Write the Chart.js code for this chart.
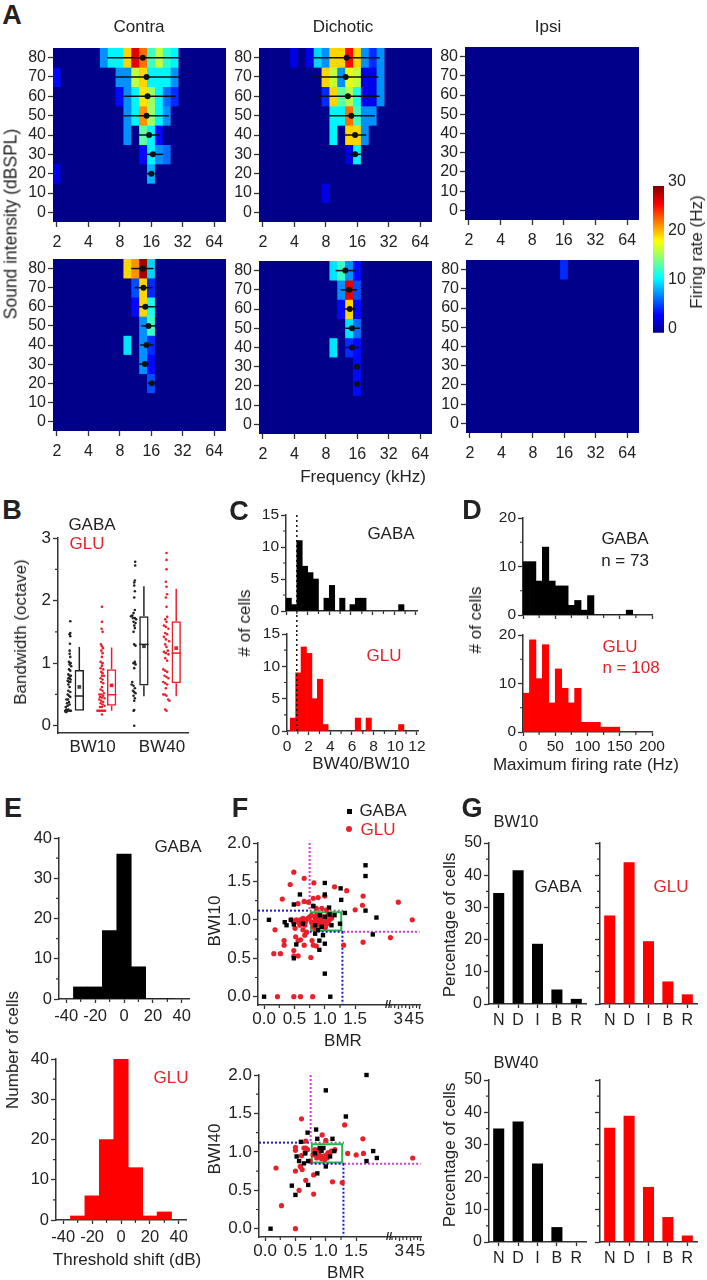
<!DOCTYPE html>
<html>
<head>
<meta charset="utf-8">
<title>Frequency tuning of GABA and GLU cells</title>
<script src="https://cdn.jsdelivr.net/npm/chart.js@4"></script>
<style>
body { margin: 0; background: #fff; }
#page { position: relative; width: 707px; height: 1280px; overflow: hidden; font-family: "Liberation Sans", Arial, sans-serif; color: #222; }
canvas { position: absolute; }
.t { position: absolute; white-space: nowrap; font-size: 17px; transform: translate(-50%, -50%); }
.m { position: absolute; }
</style>
</head>
<body>
<div id="page"></div>
<script>
// A: tuning maps, firing rate (Hz) per cell. Rows run from 80 dB down to 0 dB, columns are quarter octaves from 2 kHz
const levels = [80, 70, 60, 50, 40, 30, 20, 10, 0];
const octaves = [0, 0.25, 0.5, 0.75, 1, 1.25, 1.5, 1.75, 2, 2.25, 2.5, 2.75, 3, 3.25, 3.5, 3.75, 4, 4.25, 4.5, 4.75, 5, 5.25];
const freqTicks = [0, 1, 2, 3, 4, 5];
const freqLabels = ["2", "4", "8", "16", "32", "64"];
const levelTicks = [0, 10, 20, 30, 40, 50, 60, 70, 80];
const levelLabels = ["0", "10", "20", "30", "40", "50", "60", "70", "80"];
const z = [0, 0, 0, 0, 0, 0, 0, 0, 0, 0, 0, 0, 0, 0, 0, 0, 0, 0, 0, 0, 0, 0];

const contraGaba = [
  [0, 0, 0, 0, 0, 0, 8, 11, 11, 20, 27, 23, 13, 17, 12.5, 11, 0, 0, 0, 0, 0, 0],
  [4, 0, 0, 0, 0, 0, 0, 0, 8, 8, 17, 20, 11, 11, 11, 8, 0, 0, 0, 0, 0, 0],
  [0, 0, 0, 0, 0, 0, 0, 0, 4, 8, 11, 19.5, 16, 11, 7, 5, 0, 0, 0, 0, 0, 0],
  [0, 0, 0, 0, 0, 0, 0, 0, 0, 8, 11, 22, 16, 11, 8, 0, 0, 0, 0, 0, 0, 0],
  [0, 0, 0, 0, 0, 0, 0, 0, 0, 8, 0, 14, 11, 4, 0, 0, 0, 0, 0, 0, 0, 0],
  [0, 0, 0, 0, 0, 0, 0, 0, 0, 0, 0, 4, 11, 8, 7, 0, 0, 0, 0, 0, 0, 0],
  [3, 0, 0, 0, 0, 0, 0, 0, 0, 0, 0, 0, 9, 0, 0, 0, 0, 0, 0, 0, 0, 0],
  z, z];
const dichoticGaba = [
  [0, 0, 0, 0, 3, 0, 3, 10, 8, 20, 20, 26, 20, 8, 5, 8, 0, 0, 0, 0, 0, 0],
  [0, 0, 0, 0, 0, 0, 0, 0, 20, 17, 8, 18, 17, 3, 3, 8, 0, 0, 0, 0, 0, 0],
  [0, 0, 0, 0, 0, 0, 0, 0, 5, 20, 14, 16.5, 12, 3, 3, 8, 0, 0, 0, 0, 0, 0],
  [0, 0, 0, 0, 0, 0, 0, 0, 0, 11, 11, 23, 13, 8, 8, 0, 0, 0, 0, 0, 0, 0],
  [0, 0, 0, 0, 0, 0, 0, 0, 0, 11, 0, 20, 20, 8, 0, 0, 0, 0, 0, 0, 0, 0],
  [0, 0, 0, 0, 0, 0, 0, 0, 0, 0, 0, 3, 11, 0, 0, 0, 0, 0, 0, 0, 0, 0],
  z,
  [0, 0, 0, 0, 0, 0, 0, 0, 3, 0, 0, 0, 0, 0, 0, 0, 0, 0, 0, 0, 0, 0],
  z];
const ipsiGaba = [z, z, z, z, z, z, z, z, z];
const contraGlu = [
  [0, 0, 0, 0, 0, 0, 0, 0, 0, 20, 22, 29, 10, 0, 0, 0, 0, 0, 0, 0, 0, 0],
  [0, 0, 0, 0, 0, 0, 0, 0, 0, 0, 6, 20, 5, 0, 0, 0, 0, 0, 0, 0, 0, 0],
  [0, 0, 0, 0, 0, 0, 0, 0, 0, 0, 4, 20, 12, 0, 0, 0, 0, 0, 0, 0, 0, 0],
  [0, 0, 0, 0, 0, 0, 0, 0, 0, 0, 0, 8, 13, 0, 0, 0, 0, 0, 0, 0, 0, 0],
  [0, 0, 0, 0, 0, 0, 0, 0, 0, 10.5, 0, 8, 5, 0, 0, 0, 0, 0, 0, 0, 0, 0],
  [0, 0, 0, 0, 0, 0, 0, 0, 0, 0, 0, 8, 4, 0, 0, 0, 0, 0, 0, 0, 0, 0],
  [0, 0, 0, 0, 0, 0, 0, 0, 0, 0, 0, 0, 6, 0, 0, 0, 0, 0, 0, 0, 0, 0],
  z, z];
const dichoticGlu = [
  [0, 0, 0, 0, 0, 0, 0, 0, 0, 10.5, 13, 8, 4, 0, 0, 0, 0, 0, 0, 0, 0, 0],
  [0, 0, 0, 0, 0, 0, 0, 0, 0, 0, 8, 27, 6, 0, 0, 0, 0, 0, 0, 0, 0, 0],
  [0, 0, 0, 0, 0, 0, 0, 0, 0, 0, 4, 20, 4, 0, 0, 0, 0, 0, 0, 0, 0, 0],
  [0, 0, 0, 0, 0, 0, 0, 0, 0, 0, 0, 10.5, 7, 0, 0, 0, 0, 0, 0, 0, 0, 0],
  [0, 0, 0, 0, 0, 0, 0, 0, 0, 10.5, 0, 5, 4, 0, 0, 0, 0, 0, 0, 0, 0, 0],
  [0, 0, 0, 0, 0, 0, 0, 0, 0, 0, 0, 0, 4, 0, 0, 0, 0, 0, 0, 0, 0, 0],
  [0, 0, 0, 0, 0, 0, 0, 0, 0, 0, 0, 0, 4, 0, 0, 0, 0, 0, 0, 0, 0, 0],
  z, z];
const ipsiGlu = [
  [0, 0, 0, 0, 0, 0, 0, 0, 0, 0, 0, 0, 5, 0, 0, 0, 0, 0, 0, 0, 0, 0],
  z, z, z, z, z, z, z, z];

// best frequency and bandwidth edges per level: [level, center, low, high] in octaves above 2 kHz
const tuneContraGaba = [[80, 2.73, 1.59, 3.87], [70, 2.85, 1.85, 3.89], [60, 2.88, 2.12, 3.77], [50, 2.85, 2.12, 3.56], [40, 2.93, 2.6, 3.28], [30, 3.05, 2.86, 3.37], [20, 3, 2.86, 3.1]];
const tuneDichoticGaba = [[80, 2.66, 1.61, 3.72], [70, 2.63, 1.58, 3.67], [60, 2.7, 1.74, 3.71], [50, 2.81, 2.11, 3.56], [40, 2.93, 2.6, 3.29], [30, 2.93, 2.76, 3.11]];
const tuneContraGlu = [[80, 2.73, 2.36, 3.07], [70, 2.75, 2.47, 3.05], [60, 2.81, 2.6, 3.11], [50, 2.91, 2.68, 3.13], [40, 2.85, 2.65, 3.07], [30, 2.8, 2.62, 2.91], [20, 3.02, 2.89, 3.15]];
const tuneDichoticGlu = [[80, 2.62, 2.31, 2.95], [70, 2.74, 2.47, 3], [60, 2.76, 2.6, 2.97], [50, 2.83, 2.62, 3.08], [40, 2.83, 2.62, 3.05], [30, 2.99, 2.92, 3.08], [21, 3, 2.92, 3.1]];

// B: bandwidth strips and boxes
const stripGaba10 = [[.72,1.67],[.72,1.48],[.7,1.46],[.72,1.43],[.71,1.31],[.7,1.2],[.7,1.15],[.72,1.1],[.68,1.02],[.73,1],[.7,.98],[.75,.95],[.68,.9],[.72,.88],[.66,.82],[.7,.8],[.74,.8],[.66,.76],[.7,.76],[.73,.74],[.64,.72],[.68,.7],[.72,.7],[.66,.66],[.7,.62],[.66,.56],[.72,.54],[.64,.5],[.68,.48],[.72,.46],[.6,.42],[.65,.42],[.68,.38],[.62,.36],[.7,.34],[.64,.32],[.58,.3],[.6,.26],[.66,.26],[.56,.24],[.6,.22],[.64,.24],[.7,.24],[.74,.24],[.58,.22]];
const stripGlu10 = [[1.7,1.9],[1.7,1.66],[1.69,1.55],[1.72,1.5],[1.67,1.3],[1.7,1.27],[1.73,1.24],[1.68,1.2],[1.72,1.16],[1.7,1.1],[1.66,1.02],[1.72,1],[1.7,.96],[1.66,.92],[1.74,.9],[1.68,.86],[1.72,.84],[1.7,.8],[1.76,.8],[1.66,.76],[1.72,.74],[1.68,.7],[1.74,.68],[1.7,.62],[1.66,.58],[1.72,.56],[1.76,.52],[1.62,.5],[1.68,.5],[1.74,.48],[1.64,.46],[1.7,.45],[1.78,.44],[1.62,.42],[1.68,.4],[1.74,.38],[1.66,.36],[1.72,.34],[1.78,.32],[1.64,.3],[1.7,.3],[1.56,.24],[1.6,.24],[1.64,.24],[1.68,.24],[1.72,.24],[1.76,.24],[1.8,.24],[1.7,.18]];
const stripGaba40 = [[2.73,2.62],[2.73,2.56],[2.72,2.32],[2.7,2.29],[2.7,2.24],[2.72,2.15],[2.7,2.05],[2.72,1.85],[2.68,1.8],[2.64,1.76],[2.6,1.75],[2.66,1.72],[2.72,1.72],[2.76,1.7],[2.68,1.66],[2.74,1.64],[2.7,1.6],[2.72,1.56],[2.68,1.5],[2.7,1.3],[2.74,1.28],[2.72,1.02],[2.68,1],[2.74,.98],[2.7,.92],[2.64,.7],[2.62,.66],[2.68,.64],[2.72,.6],[2.66,.56],[2.7,.54],[2.74,.52],[2.68,.48],[2.72,.44],[2.7,.4],[2.7,.25],[2.68,.24],[2.7,0]];
const stripGlu40 = [[3.7,2.76],[3.7,2.65],[3.7,2.5],[3.68,2.3],[3.7,2.22],[3.72,2.1],[3.68,2.05],[3.7,1.9],[3.72,1.74],[3.66,1.7],[3.7,1.66],[3.62,1.6],[3.68,1.58],[3.76,1.55],[3.66,1.48],[3.72,1.46],[3.62,1.42],[3.68,1.38],[3.78,1.35],[3.66,1.3],[3.7,1.26],[3.74,1.2],[3.62,1.18],[3.68,1.16],[3.76,1.14],[3.66,1.08],[3.72,1.04],[3.6,.9],[3.66,.88],[3.72,.86],[3.64,.8],[3.7,.78],[3.76,.76],[3.6,.7],[3.66,.68],[3.72,.66],[3.68,.6],[3.6,.5],[3.65,.5],[3.7,.48],[3.75,.42],[3.79,.4],[3.66,.26],[3.7,.24]];
const boxX = [1, 2, 3, 4];
const boxLow = [.24, .32, .645, .68];
const boxHigh = [.89, .904, 1.75, 1.67];
const boxMedian = [.475, .495, 1.3, 1.16];
const boxMean = [.62, .645, 1.27, 1.24];
const whiskerLow = [.24, .24, .47, .47];
const whiskerHigh = [1.26, 1.25, 2.23, 2.19];
const boxColors = ["#222222", "#e8202a", "#222222", "#e8202a"];

// C: BW40/BW10 histograms
const ratioBinsGaba = [.25, .75, 1.25, 1.75, 2.25, 2.75, 3.25, 3.75, 4.25, 5.2, 6.15, 6.65, 7.15, 10.65];
const ratioCountsGaba = [2, 1, 11, 7, 6, 5, 0, 2, 4, 2, 1, 2, 2, 1];
const ratioBinsGlu = [.55, 1.05, 1.55, 2.05, 2.55, 3.05, 3.55, 6.55, 7.55, 10.55];
const ratioCountsGlu = [2, 9, 13, 12, 5, 8, 1, 2, 2, 1];

// D: maximum firing rate histograms, 10 Hz bins
const rateBins = [5, 15, 25, 35, 45, 55, 65, 75, 85, 95, 105, 115, 125, 135, 145, 155, 165];
const rateCountsGaba = [11, 11, 7, 14, 7, 6, 6, 2, 3, 1, 4, 0, 0, 0, 0, 0, 1];
const rateCountsGlu = [8, 19, 11, 18, 6, 13, 9, 6, 9, 2, 2, 2, 1, 1, 1, 0, 0];

// E: threshold shift histograms
const shiftBins = [-30, -20, -10, 0, 10, 20, 30];
const shiftCountsGaba = [3, 3, 17, 36, 8, 0, 0];
const shiftCountsGlu = [1, 6, 20, 40, 13, 1, 2];

// F: BMR against BWI. x runs on the drawn broken axis, so 3, 4, 5 sit at 2.21, 2.39, 2.56
const bmrTicks = [0, .5, 1, 1.5, 2.21, 2.39, 2.56];
const bmrLabels = ["0.0", "0.5", "1.0", "1.5", "3", "4", "5"];
const bwi10Gaba = [[0,0],[.08,1],[1.09,0],[1,.3],[1.67,1.71],[1.67,1.57],[1,1.48],[1.26,1.41],[.59,1.33],[1,1.33],[.49,1.2],[.81,1.18],[1.27,1.26],[1.07,1.16],[1.67,1.12],[1.85,1.03],[1.79,.81],[1.33,1.09],[.34,.97],[.37,.93],[.44,1],[.49,.94],[.64,.95],[.53,.68],[.49,.5],[.91,.61],[.91,.73],[1,.69],[.97,.8],[.84,.93],[.95,.91],[1.11,.93],[1.16,1.06],[1.25,.95],[.84,.82],[1,1.04],[1.08,1.07],[.89,.87],[.92,1.06]];
const bwi10Glu = [[.49,1.62],[.43,1.46],[.3,1.27],[.66,1.54],[.82,1.48],[1.16,1.43],[1.36,1.38],[1.63,1.31],[1.62,1.19],[1.5,1.13],[2.21,1.23],[2.44,1],[2.08,.77],[1.63,.71],[1.31,.67],[.18,.87],[.33,.73],[.33,.67],[.16,.56],[.27,.56],[.49,.6],[.49,.53],[.56,.53],[.77,.51],[.22,0],[.49,0],[.6,0],[.8,0],[.52,.78],[.56,.73],[.6,.74],[.66,.67],[.79,.73],[.81,.67],[.86,.66],[.67,.8],[.7,.84],[.51,.89],[.56,1.21],[.66,1.24],[.73,1.23],[.81,1.28],[.89,1.29],[1,1.31],[.81,1.18],[.86,1.15],[.95,1.15],[1.03,1.13],[.45,1],[.53,1],[.59,1],[.64,1.02],[.7,1],[.75,1.04],[.78,.97],[.84,1.02],[.89,.97],[.95,1],[.97,1.04],[1,.95],[.92,.93],[1.03,1],[1.05,1.06],[1.11,1.02],[.86,1.06],[.96,.91],[.81,.91],[.64,.87],[.59,.93],[.67,.93],[.48,.98],[.56,.97],[.62,.98],[.68,.97],[.72,1.02],[.83,.97],[.87,1],[.9,.94],[.93,1],[.94,.96],[.98,.98],[1,1.02],[1.01,.9],[1.04,.95],[1.07,.99],[.88,1.03],[.84,.89],[.78,1.06]];
const bwi40Gaba = [[.09,0],[.5,.44],[.44,.56],[.71,.57],[.86,.72],[1,1.8],[1.67,2],[1.33,1.46],[.84,1.29],[.7,1.25],[.86,1.17],[1.11,1.17],[.59,1.13],[1.78,1.01],[1.84,.92],[1.67,.88],[1,.81],[.52,.94],[.56,.88],[.64,.85],[.71,.88],[.66,.98],[.9,1.05],[.96,1.05],[.93,1.01],[1.07,.94],[1.14,1.01],[.82,.98]];
const bwi40Glu = [[.6,1.43],[1.31,1.35],[.94,1.22],[1.61,1.17],[.67,1.14],[1,1.15],[.5,1.06],[.5,1.02],[.64,1.05],[.67,1.05],[1.36,.98],[1.5,.96],[1.62,.98],[2.43,.92],[.18,.79],[.5,.75],[.58,.81],[.61,.77],[.67,.63],[.8,.7],[1.11,.61],[1.27,.6],[.56,.5],[.8,.45],[.27,.3],[.5,0],[.6,.95],[.74,.88],[.82,1.03],[.85,.92],[.93,.91],[1.01,.96],[1.04,.99],[1.09,1.01],[1.15,1.03],[.87,.98],[.98,.9],[.79,.96],[.83,1],[.9,.95],[.96,.94],[1.02,.92],[1.06,.96],[.88,1.03],[.66,.99],[.7,1.03]];

// G: percentage of cells per tuning class
const classes = ["N", "D", "I", "B", "R"];
const classX = [1, 2, 3, 4, 5];
const pctGaba10 = [34.5, 41.5, 18.7, 4.5, 1.6];
const pctGlu10 = [27.5, 44, 19.5, 7, 3];
const pctGaba40 = [35, 37.2, 24.2, 4.6, 0];
const pctGlu40 = [35.3, 39, 17, 7.7, 2];

Chart.defaults.font.family = '"Liberation Sans", Arial, sans-serif';
Chart.defaults.color = "#222";
Chart.defaults.animation = false;
Chart.defaults.responsive = false;
Chart.defaults.events = [];
Chart.defaults.plugins.legend.display = false;
Chart.defaults.plugins.tooltip.enabled = false;

const page = document.getElementById("page");
const AXIS = "#333";

function text(str, x, y, opts) {
  let o = opts || {};
  let d = document.createElement("div");
  d.className = "t";
  d.textContent = str;
  d.style.left = x + "px";
  d.style.top = y + "px";
  if (o.size) d.style.fontSize = o.size + "px";
  if (o.bold) d.style.fontWeight = "bold";
  if (o.color) d.style.color = o.color;
  if (o.rot) d.style.transform = "translate(-50%, -50%) rotate(-90deg)";
  page.appendChild(d);
}

function mark(x, y, size, color, round) {
  let d = document.createElement("div");
  d.className = "m";
  d.style.cssText = "left:" + (x - size / 2) + "px;top:" + (y - size / 2) + "px;width:" + size + "px;height:" + size + "px;background:" + color + ";border-radius:" + (round ? "50%" : "0");
  page.appendChild(d);
}

function jet(rate) {
  let v = rate / 30;
  let ch = t => Math.round(255 * Math.max(0, Math.min(1, 1.5 - Math.abs(4 * v - t))));
  return "rgb(" + ch(3) + "," + ch(2) + "," + Math.max(ch(1), v < 0.1 ? 139 : 0) + ")";
}

function pts(xs, ys) {
  return xs.map((x, i) => ({ x: x, y: ys[i] }));
}

function bars(xs, ys, color, pct) {
  return { type: "bar", data: pts(xs, ys), backgroundColor: color, borderWidth: 0, barPercentage: pct || 1, categoryPercentage: 1, grouped: false };
}

function line(xs, ys, color, width, dash) {
  return { type: "line", data: pts(xs, ys), borderColor: color, borderWidth: width, borderDash: dash || [], pointRadius: 0, clip: false, fill: false };
}

function dots(points, color, radius, style) {
  return { type: "scatter", data: points.map(p => ({ x: p[0], y: p[1] })), backgroundColor: color, borderWidth: 0, pointRadius: radius, pointStyle: style || "circle", clip: false };
}

// every plot gets its own canvas, sized so the chart area lands on box l,t,w,h
const ml = 50, mr = 30, mt = 12, mb = 40;
function panel(box, datasets, o) {
  let can = document.createElement("canvas");
  can.width = box.w + ml + mr;
  can.height = box.h + mt + mb;
  can.style.left = (box.l - ml) + "px";
  can.style.top = (box.t - mt) + "px";
  page.appendChild(can);

  let drawTicksX = o.xLen !== 0;
  let fontSize = o.font || 15.5;
  let extras = {
    id: "extras",
    beforeDatasetsDraw(chart) {
      if (!o.background) return;
      let a = chart.chartArea;
      chart.ctx.fillStyle = o.background;
      chart.ctx.fillRect(a.left, a.top, a.width, a.height);
    },
    afterDraw(chart) {
      let a = chart.chartArea, c = chart.ctx;
      c.save();
      c.strokeStyle = AXIS;
      c.lineWidth = 1.2;
      c.beginPath();
      (o.xMinor || []).forEach(v => {
        let px = chart.scales.x.getPixelForValue(v);
        c.moveTo(px, a.bottom);
        c.lineTo(px, a.bottom + 3);
      });
      (o.yMinor || []).forEach(v => {
        let py = chart.scales.y.getPixelForValue(v);
        c.moveTo(a.left, py);
        c.lineTo(a.left - 3, py);
      });
      c.stroke();
      c.restore();
    }
  };

  return new Chart(can.getContext("2d"), {
    type: "bar",
    data: { datasets: datasets },
    plugins: [extras],
    options: {
      layout: { padding: { top: mt, right: o.yRight ? 0 : mr, left: o.yRight ? ml : 0, bottom: 0 } },
      scales: {
        x: {
          type: "linear", display: !o.xHidden, offset: false, min: o.xMin, max: o.xMax,
          grid: { offset: false, drawOnChartArea: false, drawTicks: drawTicksX, tickLength: o.xLen === undefined ? 4 : o.xLen, tickColor: AXIS, tickWidth: 1.3 },
          border: { display: !o.heat, color: AXIS, width: 1.5 },
          ticks: { autoSkip: false, maxRotation: 0, minRotation: 0, padding: o.xPad === undefined ? 2 : o.xPad, font: { size: fontSize }, callback: (v, i) => (o.xLabels ? o.xLabels[i] : "") },
          afterBuildTicks: s => { s.ticks = (o.xTicks || []).map(value => ({ value: value })); },
          afterFit: s => { s.height = mb; s.paddingLeft = 0; s.paddingRight = 0; }
        },
        y: {
          type: "linear", position: o.yRight ? "right" : "left", min: o.yMin === undefined ? 0 : o.yMin, max: o.yMax,
          grid: { drawOnChartArea: false, drawTicks: !o.yRight, tickLength: 5, tickColor: AXIS, tickWidth: 1.3 },
          border: { display: !o.heat && !o.yRight, color: AXIS, width: 1.5 },
          ticks: { autoSkip: false, padding: o.yRight ? 4 : 2, labelOffset: o.yRight ? -4 : 0, font: { size: fontSize }, callback: (v, i) => (o.yLabels ? o.yLabels[i] : "") },
          afterBuildTicks: s => { s.ticks = o.yTicks.map(value => ({ value: value })); },
          afterFit: s => { s.width = o.yRight ? mr : ml; s.paddingTop = 0; s.paddingBottom = 0; }
        }
      }
    }
  });
}

function heatmap(box, rows, tune) {
  let sets = [];
  (tune || []).forEach(t => { sets.push(line([t[2], t[3]], [t[0], t[0]], "#111", 1.5)); });
  if (tune) sets.unshift(dots(tune.map(t => [t[1], t[0]]), "#111", 3));
  rows.forEach((row, r) => {
    sets.push({
      type: "bar",
      data: octaves.map(x => ({ x: x, y: [levels[r] - 5, levels[r] + 5] })),
      backgroundColor: row.map(jet),
      borderWidth: 0, barPercentage: 1, categoryPercentage: 1, grouped: false
    });
  });
  panel(box, sets, {
    heat: true, background: jet(0), font: 16,
    xMin: -0.125, xMax: 5.375, xTicks: freqTicks, xLabels: freqLabels, xLen: 5, xPad: 6,
    yMin: -5, yMax: 85, yTicks: levelTicks, yLabels: levelLabels
  });
}

// A
heatmap({ l: 53, t: 48, w: 173, h: 174 }, contraGaba, tuneContraGaba);
heatmap({ l: 259, t: 48, w: 173, h: 174 }, dichoticGaba, tuneDichoticGaba);
heatmap({ l: 465, t: 47, w: 174, h: 173 }, ipsiGaba);
heatmap({ l: 53, t: 259, w: 173, h: 172 }, contraGlu, tuneContraGlu);
heatmap({ l: 259, t: 261, w: 173, h: 173 }, dichoticGlu, tuneDichoticGlu);
heatmap({ l: 466, t: 260, w: 173, h: 173 }, ipsiGlu);

// colour bar
const barBox = { l: 653, t: 186, w: 11, h: 147 };
panel(barBox, [{
  type: "bar", data: [{ x: 0, y: [0, 30] }], borderWidth: 0, barPercentage: 1, categoryPercentage: 1,
  backgroundColor: c => {
    let g = c.chart.ctx.createLinearGradient(0, mt + barBox.h, 0, mt);
    [0, 3.75, 11.25, 18.75, 26.25, 30].forEach((r, i) => {
      g.addColorStop(r / 30, ["#00008b", "#0000ff", "#00ffff", "#ffff00", "#ff0000", "#800000"][i]);
    });
    return g;
  }
}], { xHidden: true, yRight: true, xMin: -0.5, xMax: 0.5, xTicks: [], yMax: 30, yTicks: [0, 10, 20, 30], yLabels: ["0", "10", "20", "30"], font: 16 });

// B
let boxSets = [];
boxX.forEach((x, i) => {
  boxSets.push(line([x, x], [boxHigh[i], whiskerHigh[i]], boxColors[i], 1.5));
  boxSets.push(line([x, x], [whiskerLow[i], boxLow[i]], boxColors[i], 1.5));
  boxSets.push(line([x - 0.145, x + 0.145], [boxMedian[i], boxMedian[i]], boxColors[i], 1.5));
  boxSets.push(dots([[x, boxMean[i]]], boxColors[i] === "#222222" ? "#444" : "#e8202a", 2.6, "rect"));
});
boxSets.push(dots(stripGaba10, "#222", 1.3), dots(stripGaba40, "#222", 1.3), dots(stripGlu10, "#e8202a", 1.3), dots(stripGlu40, "#e8202a", 1.3));
boxSets.push({
  type: "bar", data: boxX.map((x, i) => ({ x: x, y: [boxLow[i], boxHigh[i]] })),
  backgroundColor: "rgba(0,0,0,0)", borderColor: boxColors, borderWidth: 1.5, borderSkipped: false,
  barPercentage: 0.29, categoryPercentage: 1, grouped: false
});
panel({ l: 58, t: 538, w: 130, h: 195 }, boxSets, {
  font: 17, xMin: 0.34, xMax: 4.365, xTicks: [1.41, 3.56], xLabels: ["BW10", "BW40"], xLen: 0, xPad: 4,
  yMin: -0.116, yMax: 3, yTicks: [0, 1, 2, 3], yLabels: ["0", "1", "2", "3"], yMinor: [.5, 1.5, 2.5]
});

// C
const ratioTicks = [0, 2, 4, 6, 8, 10, 12];
const ratioMinor = [1, 3, 5, 7, 9, 11];
const countTicks15 = [0, 5, 10, 15];
panel({ l: 286, t: 515, w: 131, h: 96 }, [
  line([1, 1], [15, -3.6], "#111", 1.5, [2, 3]),
  bars(ratioBinsGaba, ratioCountsGaba, "#000")
], { xMin: 0, xMax: 12.1, xTicks: ratioTicks, xMinor: ratioMinor, yMax: 15, yTicks: countTicks15, yLabels: ["0", "5", "10", "15"], yMinor: [2.5, 7.5, 12.5] });
panel({ l: 287, t: 634, w: 131, h: 97 }, [
  line([.9, .9], [15, 0], "#111", 1.5, [2, 3]),
  bars(ratioBinsGlu, ratioCountsGlu, "#ff0000")
], { xMin: 0, xMax: 12.1, xTicks: ratioTicks, xLabels: ["0", "2", "4", "6", "8", "10", "12"], xMinor: ratioMinor, xPad: 2.5, yMax: 15, yTicks: countTicks15, yLabels: ["0", "5", "10", "15"], yMinor: [2.5, 7.5, 12.5] });

// D
const rateTicks = [0, 50, 100, 150, 200];
const rateMinor = [25, 75, 125, 175];
const countTicks20 = [0, 10, 20];
panel({ l: 523, t: 518, w: 129, h: 97 }, [bars(rateBins, rateCountsGaba, "#000")],
  { xMin: 0, xMax: 200, xTicks: rateTicks, xMinor: rateMinor, yMax: 20, yTicks: countTicks20, yLabels: ["0", "10", "20"], yMinor: [5, 15] });
panel({ l: 523, t: 635, w: 129, h: 97 }, [bars(rateBins, rateCountsGlu, "#ff0000")],
  { xMin: 0, xMax: 200, xTicks: rateTicks, xLabels: ["0", "50", "100", "150", "200"], xMinor: rateMinor, xPad: 1, yMax: 20, yTicks: countTicks20, yLabels: ["0", "10", "20"], yMinor: [5, 15] });

// E
const shiftTicks = [-40, -20, 0, 20, 40];
const shiftLabels = ["-40", "-20", "0", "20", "40"];
const shiftMinor = [-30, -10, 10, 30];
const countTicks40 = [0, 10, 20, 30, 40];
const countLabels40 = ["0", "10", "20", "30", "40"];
const countMinor40 = [5, 15, 25, 35];
panel({ l: 59, t: 838, w: 130, h: 161 }, [bars(shiftBins, shiftCountsGaba, "#000")],
  { font: 16.5, xMin: -45, xMax: 45, xTicks: shiftTicks, xLabels: shiftLabels, xMinor: shiftMinor, xPad: 3.5, yMax: 40, yTicks: countTicks40, yLabels: countLabels40, yMinor: countMinor40 });
panel({ l: 56, t: 1059, w: 130, h: 161 }, [bars(shiftBins, shiftCountsGlu, "#ff0000")],
  { font: 16.5, xMin: -45, xMax: 45, xTicks: shiftTicks, xLabels: shiftLabels, xMinor: shiftMinor, xPad: 3.5, yMax: 40, yTicks: countTicks40, yLabels: countLabels40, yMinor: countMinor40 });

// F
function bmrPanel(box, gaba, glu) {
  const magenta = "#d83ad8", blue = "#1c1cc0", green = "#2bb24c", dotted = [2, 2];
  panel(box, [
    dots(gaba, "#000", 3.1, "rect"),
    dots(glu, "#e8202a", 2.6),
    line([.75, .75], [2, 1.12], magenta, 2, dotted),
    line([1.3, 2.56], [.845, .845], magenta, 2, dotted),
    line([-0.1, .75], [1.12, 1.12], blue, 2, dotted),
    line([1.29, 1.29], [.845, -0.108], blue, 2, dotted),
    line([.75, 1.3], [.845, .845], blue, 2, dotted),
    line([.75, 1.3], [1.12, 1.12], "#7a7a7a", 2, dotted),
    line([.77, 1.27, 1.27, .77, .77], [.86, .86, 1.1, 1.1, .86], green, 2)
  ], {
    font: 17, xMin: -0.1, xMax: 2.567, xTicks: bmrTicks, xLabels: bmrLabels, xMinor: [.25, .75, 1.25, 2.09, 2.15, 2.27, 2.33, 2.45, 2.51], xPad: 0.5,
    yMin: -0.108, yMax: 2, yTicks: [0, .5, 1, 1.5, 2], yLabels: ["0.0", "0.5", "1.0", "1.5", "2.0"], yMinor: [.25, .75, 1.25, 1.75]
  });
}
bmrPanel({ l: 258, t: 843, w: 162, h: 162 }, bwi10Gaba, bwi10Glu);
bmrPanel({ l: 259, t: 1075, w: 162, h: 162 }, bwi40Gaba, bwi40Glu);

// G
const pctTicks = [0, 10, 20, 30, 40, 50];
const pctLabels = ["0", "10", "20", "30", "40", "50"];
const pctMinor = [5, 15, 25, 35, 45];
function classPanel(box, values, color, labelled) {
  panel(box, [bars(classX, values, color, 0.57)], {
    font: 16, xMin: 0.5, xMax: 5.5, xTicks: classX, xLabels: classes, xPad: 3,
    yMax: 50, yTicks: pctTicks, yLabels: labelled ? pctLabels : null, yMinor: pctMinor
  });
}
classPanel({ l: 489, t: 843, w: 97, h: 161 }, pctGaba10, "#000", true);
classPanel({ l: 600, t: 843, w: 97, h: 161 }, pctGlu10, "#ff0000", false);
classPanel({ l: 489, t: 1080, w: 97, h: 162 }, pctGaba40, "#000", true);
classPanel({ l: 600, t: 1080, w: 97, h: 162 }, pctGlu40, "#ff0000", false);

// labels
const RED = "#e8202a";
text("A", 12, 15, { size: 27, bold: true });
text("B", 12, 510, { size: 27, bold: true });
text("C", 239, 511, { size: 27, bold: true });
text("D", 472, 510, { size: 27, bold: true });
text("E", 13, 808, { size: 27, bold: true });
text("F", 240, 808, { size: 27, bold: true });
text("G", 472, 808, { size: 27, bold: true });

text("Contra", 139, 27);
text("Dichotic", 343, 27);
text("Ipsi", 548, 27);
text("Sound intensity (dBSPL)", 11, 224, { size: 17.5, rot: true });
text("Frequency (kHz)", 363, 477);
text("Firing rate (Hz)", 697, 252, { rot: true });

text("GABA", 92, 525);
text("GLU", 87, 544, { color: RED });
text("Bandwidth (octave)", 21, 632, { rot: true });

text("GABA", 391, 534);
text("GLU", 384, 656, { color: RED });
text("BW40/BW10", 361, 764);
text("# of cells", 245, 623, { rot: true });

text("GABA", 625, 539);
text("n = 73", 625, 561);
text("GLU", 620, 647, { color: RED });
text("n = 108", 631, 668, { color: RED });
text("Maximum firing rate (Hz)", 586, 765);
text("# of cells", 476, 620, { rot: true });

text("GABA", 178, 847);
text("GLU", 171, 1078, { color: RED });
text("Number of cells", 13, 1050, { rot: true });
text("Threshold shift (dB)", 127, 1260);

mark(349, 811, 5, "#000");
text("GABA", 383, 811);
mark(349, 829, 6, RED, true);
text("GLU", 378, 830, { color: RED });
text("BWI10", 215, 921, { rot: true });
text("BWI40", 215, 1149, { rot: true });
text("BMR", 343, 1041);
text("BMR", 346, 1273);
text("//", 388, 1004, { size: 11, bold: true });
text("//", 389, 1236, { size: 11, bold: true });

text("BW10", 516, 821, { size: 16.5 });
text("GABA", 558, 887);
text("GLU", 671, 887, { color: RED });
text("BW40", 516, 1062, { size: 16.5 });
text("Percentage of cells", 450, 925, { rot: true });
text("Percentage of cells", 450, 1155, { rot: true });
</script>
</body>
</html>
